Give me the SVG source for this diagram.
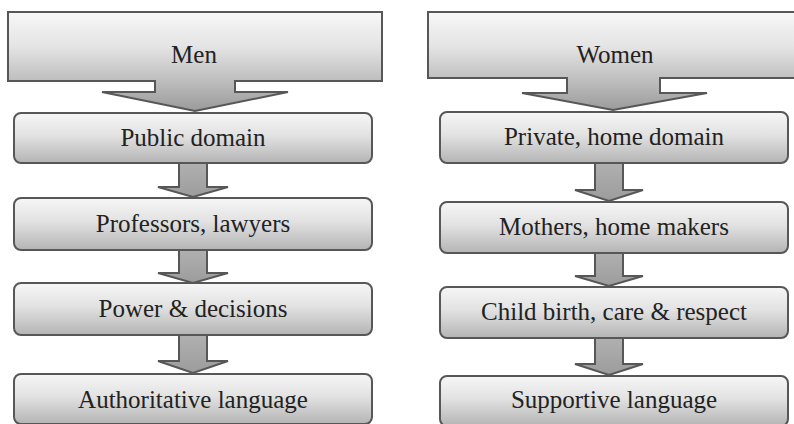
<svg xmlns="http://www.w3.org/2000/svg" width="794" height="424" viewBox="0 0 794 424">
<defs>
<linearGradient id="gBox" x1="0" y1="0" x2="0" y2="1">
<stop offset="0" stop-color="#f6f6f6"/>
<stop offset="0.45" stop-color="#e2e2e2"/>
<stop offset="1" stop-color="#b4b4b4"/>
</linearGradient>
<linearGradient id="gCallM" gradientUnits="userSpaceOnUse" x1="0" y1="12" x2="0" y2="111">
<stop offset="0" stop-color="#f7f7f7"/>
<stop offset="0.35" stop-color="#e4e4e4"/>
<stop offset="0.7" stop-color="#bdbdbd"/>
<stop offset="1" stop-color="#9a9a9a"/>
</linearGradient>
<linearGradient id="gArrow" x1="0" y1="0" x2="0" y2="1">
<stop offset="0" stop-color="#b0b0b0"/>
<stop offset="1" stop-color="#9c9c9c"/>
</linearGradient>
</defs>
<style>
.box{fill:url(#gBox);stroke:#575757;stroke-width:2}
.call{fill:url(#gCallM);stroke:#575757;stroke-width:2;stroke-linejoin:miter}
.arr{fill:url(#gArrow);stroke:#575757;stroke-width:2;stroke-linejoin:miter}
</style>

<g id="connectors">
<path class="arr" d="M179,163 H207 V187 H228 L193,197 L158,187 H179 Z"/>
<path class="arr" d="M179,250 H207 V273 H228 L193,283 L158,273 H179 Z"/>
<path class="arr" d="M179,335 H207 V361 H228 L193,373 L158,361 H179 Z"/>
<path class="arr" d="M595,163 H623 V190 H643 L609,201 L575,190 H595 Z"/>
<path class="arr" d="M595,253 H623 V276 H643 L609,286 L575,276 H595 Z"/>
<path class="arr" d="M595,338 H623 V364 H643 L609,375 L575,364 H595 Z"/>
</g>

<g id="men">
<path class="call" d="M8,12 H382 V81 H235 V92 H288 L195,111 L102,92 H155 V81 H8 Z"/>
<text x="194" y="63" font-family="Liberation Serif, serif" font-size="25" fill="#222" text-anchor="middle">Men</text>
</g>
<g id="women">
<path class="call" d="M428,12 H802 V78 H660 V93 H707 L613,110 L522,93 H567 V78 H428 Z"/>
<text x="615" y="63" font-family="Liberation Serif, serif" font-size="25" fill="#222" text-anchor="middle">Women</text>
</g>

<g id="public-domain">
<rect class="box" x="14" y="113" width="358" height="50" rx="7"/>
<text x="193" y="146" font-family="Liberation Serif, serif" font-size="25" fill="#222" text-anchor="middle">Public domain</text>
</g>
<g id="professors">
<rect class="box" x="14" y="198" width="358" height="52" rx="7"/>
<text x="193" y="232" font-family="Liberation Serif, serif" font-size="25" fill="#222" text-anchor="middle">Professors, lawyers</text>
</g>
<g id="power">
<rect class="box" x="14" y="283" width="358" height="52" rx="7"/>
<text x="193" y="317" font-family="Liberation Serif, serif" font-size="25" fill="#222" text-anchor="middle">Power &amp; decisions</text>
</g>
<g id="authoritative">
<rect class="box" x="14" y="374" width="358" height="50" rx="7"/>
<text x="193" y="408" font-family="Liberation Serif, serif" font-size="25" fill="#222" text-anchor="middle">Authoritative language</text>
</g>

<g id="private">
<rect class="box" x="440" y="112" width="348" height="51" rx="7"/>
<text x="614" y="145" font-family="Liberation Serif, serif" font-size="25" fill="#222" text-anchor="middle">Private, home domain</text>
</g>
<g id="mothers">
<rect class="box" x="440" y="202" width="348" height="51" rx="7"/>
<text x="614" y="235" font-family="Liberation Serif, serif" font-size="25" fill="#222" text-anchor="middle">Mothers, home makers</text>
</g>
<g id="childbirth">
<rect class="box" x="440" y="287" width="348" height="51" rx="7"/>
<text x="614" y="320" font-family="Liberation Serif, serif" font-size="25" fill="#222" text-anchor="middle">Child birth, care &amp; respect</text>
</g>
<g id="supportive">
<rect class="box" x="440" y="376" width="348" height="50" rx="7"/>
<text x="614" y="408" font-family="Liberation Serif, serif" font-size="25" fill="#222" text-anchor="middle">Supportive language</text>
</g>
</svg>
